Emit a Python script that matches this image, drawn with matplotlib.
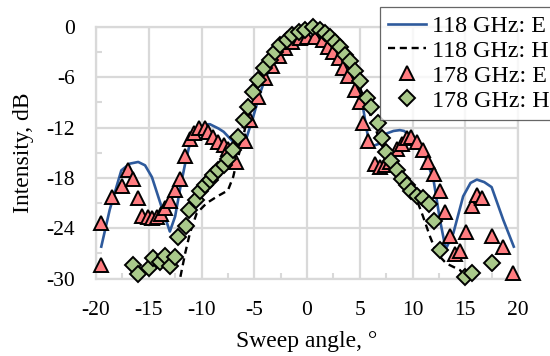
import matplotlib
matplotlib.use("Agg")
import matplotlib.pyplot as plt
from matplotlib.ticker import MultipleLocator

plt.rcParams['font.family'] = ['Liberation Serif', 'DejaVu Serif']
plt.rcParams['axes.unicode_minus'] = False

# 118 GHz: E (solid line)
e118_x = [-19.5, -18.7, -17.6, -16.8, -16.0, -15.35, -14.7, -13.8, -13.0, -12.5, -12.0, -11.55,
          -11.1, -10.45, -9.7, -9.2, -8.4, -7.9, -7.0, -6.35, -5.7, -5.1, -4.45, -4.0, -3.5, -3.0,
          -2.5, -2.0, -1.5, -1.0, -0.5, 0.0, 0.5, 1.0, 1.5, 2.0, 2.5, 3.0, 3.5, 4.0, 4.5, 5.0, 5.35,
          5.66, 6.0, 6.9, 7.55, 8.2, 8.8, 9.2, 10.0, 11.0, 12.0, 12.6, 13.15, 13.87, 14.8, 15.5, 16.1,
          16.8, 17.5, 18.6, 19.6]
e118_y = [-26.2, -21.8, -17.1, -16.3, -16.1, -16.5, -17.9, -21.4, -24.4, -22.6, -19.1, -16.3,
          -13.9, -12.5, -11.6, -11.6, -12.1, -12.5, -13.7, -14.3, -13.1, -10.7, -7.9, -6.3, -4.9, -3.7,
          -2.6, -1.7, -1.0, -0.5, -0.15, 0.0, 0.0, -0.2, -0.6, -1.2, -2.0, -2.9, -3.9, -5.0, -6.0, -7.1, -9.9,
          -12.3, -14.3, -13.9, -12.7, -12.4, -12.3, -12.4, -13.2, -14.7, -18.3, -23.0, -26.5, -24.6, -20.2, -18.6, -18.2,
          -18.5, -19.1, -23.0, -26.2]

# 118 GHz: H (dashed line)
h118_x = [-12.0, -11.55, -11.1, -10.45, -9.5, -8.5, -7.5, -7.0, -6.7, -6.2, -5.6, -5.0, -4.5,
          -4.0, -3.5, -3.0, -2.5, -2.0, -1.5, -1.0, -0.5, 0.0, 0.5, 1.0, 1.5, 2.0, 2.5, 3.0, 3.5,
          4.0, 4.5, 5.0, 5.5, 6.0, 6.5, 7.0, 7.5, 8.0, 8.5, 9.0, 9.5, 10.0, 10.4, 11.0, 11.66,
          12.3, 13.2, 14.5, 15.1]
h118_y = [-29.8, -27.0, -24.6, -22.2, -21.0, -20.2, -19.5, -17.9, -16.3, -14.0, -10.5, -7.8, -6.0,
          -4.7, -3.7, -2.8, -2.0, -1.3, -0.8, -0.4, -0.1, 0.0, -0.05, -0.3, -0.7, -1.2, -1.8, -2.6, -3.5,
          -4.6, -5.8, -7.2, -8.7, -10.5, -12.2, -13.8, -15.0, -16.0, -17.0, -18.0, -18.9, -19.7, -20.6,
          -22.6, -25.0, -27.0, -28.2, -29.0, -29.8]

# 178 GHz: E (triangles)
e178_x = [-19.5, -19.5, -18.5, -17.5, -17.0, -16.5, -16.0, -15.65, -15.1, -14.7, -14.25, -13.8,
          -13.45, -13.0, -12.5, -12.05, -11.55, -11.1, -10.7, -10.2, -9.7, -9.35, -8.9, -8.4, -7.9,
          -7.45, -6.7, -5.9, -5.4, -4.6, -4.0, -3.35, -2.7, -2.1, -1.45, -0.7, 0.0, 0.75, 1.5, 2.0,
          2.5, 3.0, 3.4, 3.9, 4.55, 5.0, 5.3, 5.8, 6.45, 6.9, 7.4, 7.9, 8.5, 9.0, 9.45, 9.9, 10.4,
          11.0, 11.5, 12.0, 12.6, 13.1, 13.55, 14.0, 14.5, 15.1, 15.6, 16.1, 16.6, 17.5, 18.6, 19.55]
e178_y = [-23.4, -28.4, -20.3, -19.0, -17.1, -18.1, -20.4, -22.6, -22.7, -22.8, -22.7, -22.3,
          -21.6, -20.7, -19.5, -18.1, -15.4, -13.4, -12.6, -12.0, -12.0, -12.5, -13.1, -13.7, -14.1,
          -14.5, -16.1, -13.6, -11.1, -8.3, -6.1, -4.7, -3.5, -2.5, -1.75, -1.35, -1.2, -1.15, -1.55, -2.35,
          -2.95, -3.7, -4.9, -5.9, -7.5, -9.0, -11.5, -13.6, -16.3, -16.7, -16.5, -16.1, -14.5, -13.9, -13.3, -13.1, -13.7,
          -14.7, -16.1, -17.5, -19.6, -22.1, -24.9, -27.1, -26.7, -24.4, -21.4, -20.0, -20.4, -24.9, -26.3, -29.3]

# 178 GHz: H (diamonds)
h178_x = [-16.45, -16.0, -15.0, -14.55, -13.9, -13.45, -13.0, -12.5, -12.2, -11.5, -11.15, -10.55,
          -10.1, -9.65, -9.2, -8.9, -8.4, -7.9, -7.45, -7.0, -6.5, -6.0, -5.55, -5.1, -4.6, -4.1,
          -3.5, -3.0, -2.55, -1.9, -1.45, -0.8, -0.2, 0.6, 1.2, 1.7, 2.2, 2.65, 3.1, 3.6, 4.1, 4.55,
          5.0, 5.65, 6.1, 6.7, 7.1, 7.5, 8.0, 8.5, 9.0, 9.45, 9.9, 10.45, 11.0, 11.55, 12.0, 12.6,
          15.0, 15.6, 17.5]
h178_y = [-28.4, -29.5, -28.7, -27.5, -28.0, -27.3, -28.5, -27.4, -25.1, -23.7, -21.8, -20.6,
          -19.6, -18.9, -18.3, -17.7, -17.1, -16.5, -15.7, -14.7, -13.1, -11.1, -9.5, -7.7, -6.3, -4.9,
          -3.9, -2.95, -2.15, -1.55, -0.95, -0.55, -0.4, 0.0, -0.3, -0.75, -1.15, -1.75, -2.35, -3.35, -4.1, -5.3,
          -6.5, -8.5, -9.5, -11.5, -13.2, -14.9, -16.0, -17.1, -18.1, -18.9, -19.6, -20.1, -20.4, -21.1, -23.1, -26.6,
          -29.8, -29.3, -28.2]

labels = ['118 GHz: E', '118 GHz: H', '178 GHz: E', '178 GHz: H']
x_ticks = [-20, -15, -10, -5, 0, 5, 10, 15, 20]
y_ticks = [0, -6, -12, -18, -24, -30]

grid_c = '#d9d9d9'
fig = plt.figure(figsize=(5.5, 3.56), dpi=100)
ax = fig.add_axes([96/550, 1-278.5/356, 422/550, 251.5/356])

l1, = ax.plot(e118_x, e118_y, color='#2e5a9c', lw=1.9, zorder=3, label=labels[0])
l2, = ax.plot(h118_x, h118_y, color='black', lw=1.7, dashes=(3, 2), zorder=3, label=labels[1])
l3, = ax.plot(e178_x, e178_y, ls='none', marker='^', ms=9.5, mfc='#ff7c80', mec='black',
              mew=1.4, zorder=4, clip_on=False, label=labels[2])
l4, = ax.plot(h178_x, h178_y, ls='none', marker='D', ms=8.3, mfc='#a9c98a', mec='black',
              mew=1.4, zorder=5, clip_on=False, label=labels[3])

ax.set_xlim(-20, 20)
ax.set_ylim(-30, 0)
ax.set_xticks(x_ticks)
ax.set_xticklabels([str(v) for v in x_ticks])
ax.set_yticks(y_ticks)
ax.set_yticklabels([str(v) for v in y_ticks])
ax.xaxis.set_minor_locator(MultipleLocator(2.5))
ax.yaxis.set_minor_locator(MultipleLocator(3))
ax.tick_params(which='major', length=0, labelsize=15.5)
ax.tick_params(axis='x', which='major', pad=16)
ax.tick_params(axis='y', which='major', pad=15)
ax.tick_params(which='minor', direction='in', length=4, width=1.5, color=grid_c)
ax.grid(True, which='major', color=grid_c, lw=1.6, zorder=0)
ax.set_axisbelow(True)
for s in ax.spines.values():
    s.set_color(grid_c)
    s.set_linewidth(1.6)

ax.set_xlabel('Sweep angle, °', fontsize=17, labelpad=8)
ax.set_ylabel('Intensity, dB', fontsize=17, labelpad=9)

leg = fig.legend(handles=[l1, l2, l3, l4], loc='upper left',
                 bbox_to_anchor=(380/550, 1-6.7/356), fontsize=17.3, frameon=True,
                 fancybox=False, borderpad=0.35, handlelength=1.55, handletextpad=0.25,
                 labelspacing=0.13, borderaxespad=0)
leg.get_frame().set_edgecolor('#404040')
leg.get_frame().set_linewidth(0.9)
leg.set_zorder(10)

fig.savefig('out.png', dpi=100)
